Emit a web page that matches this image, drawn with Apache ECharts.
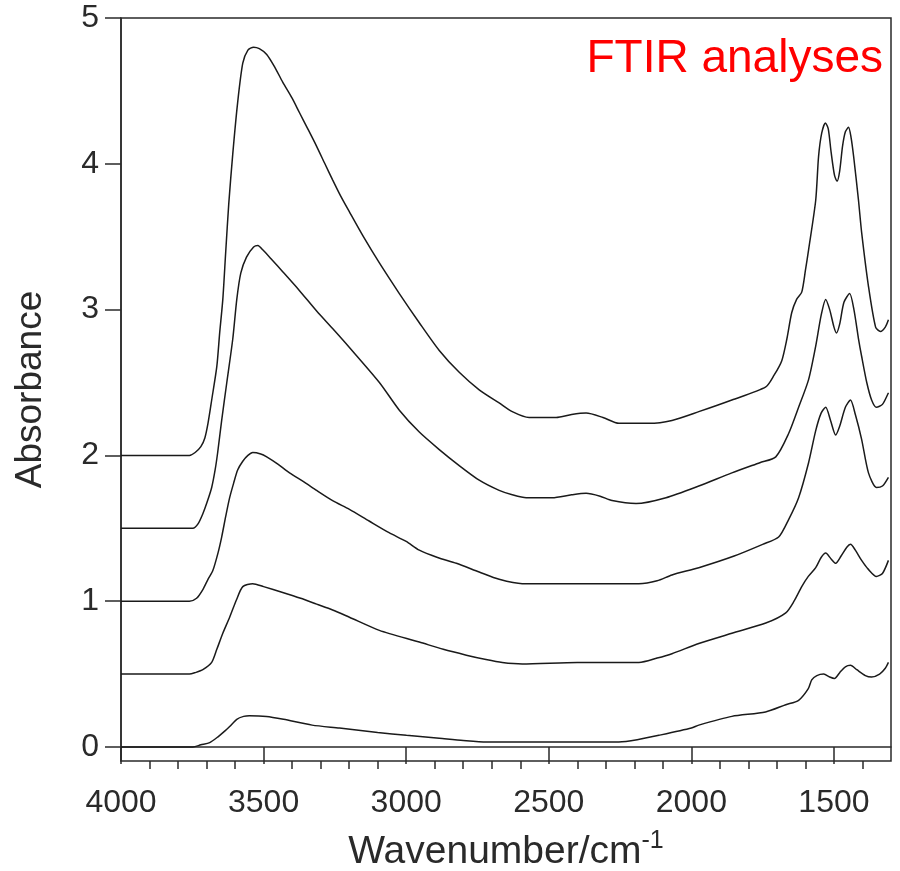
<!DOCTYPE html>
<html>
<head>
<meta charset="utf-8">
<script src="https://cdn.jsdelivr.net/npm/echarts@6/dist/echarts.min.js"></script>
<style>
html,body{margin:0;padding:0;background:#fff;}
#chart{width:900px;height:871px;}
</style>
</head>
<body>
<div id="chart"></div>
<script>
// Wavenumber (cm-1), absorbance pairs for each spectrum (offset baselines as in the figure)
const spectrumA = [[4000,2.00],[3800,2.00],[3760,2.00],[3740,2.02],[3720,2.06],[3706,2.12],[3695,2.22],[3682,2.38],[3664,2.61],[3654,2.84],[3643,3.07],[3633,3.39],[3622,3.73],[3608,4.07],[3591,4.42],[3573,4.69],[3555,4.78],[3535,4.80],[3515,4.79],[3489,4.75],[3460,4.66],[3433,4.56],[3400,4.45],[3374,4.35],[3345,4.24],[3314,4.12],[3285,4.00],[3258,3.89],[3230,3.78],[3199,3.67],[3150,3.50],[3094,3.32],[3024,3.11],[2954,2.91],[2884,2.72],[2814,2.57],[2744,2.45],[2674,2.36],[2628,2.30],[2569,2.26],[2474,2.26],[2420,2.28],[2369,2.29],[2310,2.26],[2254,2.22],[2149,2.22],[2068,2.24],[1974,2.30],[1858,2.38],[1739,2.47],[1710,2.55],[1683,2.65],[1665,2.80],[1648,2.98],[1631,3.07],[1613,3.12],[1600,3.27],[1589,3.41],[1564,3.75],[1554,4.05],[1543,4.21],[1530,4.28],[1520,4.24],[1510,4.08],[1498,3.92],[1489,3.88],[1480,3.95],[1470,4.12],[1460,4.22],[1449,4.25],[1440,4.18],[1431,4.05],[1414,3.75],[1403,3.53],[1379,3.16],[1354,2.88],[1337,2.85],[1320,2.88],[1309,2.93]];
const spectrumB = [[4000,1.50],[3800,1.50],[3748,1.50],[3730,1.53],[3713,1.60],[3698,1.68],[3682,1.78],[3670,1.90],[3661,2.02],[3647,2.24],[3629,2.50],[3608,2.80],[3594,3.07],[3580,3.25],[3560,3.36],[3535,3.43],[3520,3.44],[3503,3.41],[3470,3.34],[3433,3.26],[3374,3.13],[3314,2.99],[3258,2.87],[3199,2.74],[3094,2.50],[3024,2.31],[2954,2.16],[2884,2.04],[2814,1.93],[2744,1.83],[2674,1.76],[2628,1.73],[2579,1.71],[2488,1.71],[2420,1.73],[2369,1.74],[2320,1.72],[2278,1.69],[2194,1.67],[2089,1.71],[1974,1.79],[1858,1.88],[1760,1.95],[1704,1.99],[1659,2.15],[1624,2.33],[1589,2.52],[1564,2.75],[1545,2.96],[1529,3.07],[1515,3.00],[1500,2.88],[1491,2.84],[1480,2.90],[1465,3.05],[1445,3.11],[1430,3.00],[1414,2.80],[1403,2.68],[1385,2.50],[1368,2.38],[1351,2.33],[1330,2.35],[1309,2.43]];
const spectrumC = [[4000,1.00],[3800,1.00],[3760,1.00],[3735,1.02],[3713,1.08],[3695,1.15],[3678,1.21],[3660,1.33],[3647,1.44],[3633,1.58],[3619,1.71],[3605,1.81],[3591,1.90],[3573,1.96],[3555,2.00],[3538,2.02],[3510,2.01],[3489,1.99],[3450,1.94],[3409,1.88],[3360,1.82],[3314,1.76],[3258,1.69],[3199,1.63],[3130,1.55],[3060,1.47],[3000,1.41],[2954,1.35],[2890,1.30],[2824,1.26],[2744,1.20],[2674,1.15],[2593,1.12],[2400,1.12],[2184,1.12],[2120,1.14],[2068,1.18],[1974,1.23],[1850,1.31],[1750,1.39],[1694,1.44],[1659,1.56],[1624,1.71],[1589,1.95],[1564,2.17],[1545,2.29],[1529,2.33],[1512,2.24],[1494,2.14],[1480,2.20],[1460,2.33],[1442,2.38],[1425,2.28],[1403,2.11],[1379,1.88],[1351,1.78],[1330,1.79],[1309,1.85]];
const spectrumD = [[4000,0.50],[3800,0.50],[3760,0.50],[3740,0.51],[3713,0.53],[3682,0.58],[3664,0.67],[3643,0.78],[3619,0.89],[3595,1.01],[3573,1.10],[3538,1.12],[3500,1.10],[3433,1.06],[3370,1.02],[3314,0.98],[3258,0.94],[3199,0.89],[3094,0.80],[2954,0.72],[2870,0.67],[2789,0.63],[2720,0.60],[2663,0.58],[2593,0.57],[2400,0.58],[2184,0.58],[2120,0.61],[2068,0.64],[1974,0.71],[1858,0.78],[1739,0.85],[1669,0.92],[1640,1.00],[1613,1.10],[1590,1.17],[1564,1.23],[1545,1.30],[1529,1.33],[1510,1.29],[1494,1.26],[1475,1.31],[1455,1.37],[1442,1.39],[1425,1.35],[1403,1.28],[1380,1.22],[1351,1.17],[1330,1.19],[1309,1.28]];
const spectrumE = [[4000,0.00],[3800,0.00],[3748,0.00],[3720,0.015],[3689,0.03],[3660,0.07],[3630,0.12],[3619,0.14],[3594,0.19],[3570,0.21],[3550,0.215],[3490,0.21],[3430,0.19],[3330,0.15],[3234,0.13],[3100,0.10],[2999,0.08],[2884,0.06],[2800,0.045],[2719,0.035],[2500,0.035],[2254,0.035],[2190,0.05],[2114,0.08],[2000,0.13],[1974,0.15],[1858,0.21],[1740,0.24],[1669,0.29],[1624,0.32],[1590,0.40],[1578,0.46],[1560,0.49],[1536,0.50],[1515,0.48],[1498,0.47],[1480,0.51],[1460,0.55],[1442,0.56],[1420,0.53],[1390,0.49],[1368,0.48],[1340,0.50],[1320,0.54],[1309,0.58]];

const xMajorTicks = [4000,3500,3000,2500,2000,1500];
const xMinorTicks = [3900,3800,3700,3600,3400,3300,3200,3100,2900,2800,2700,2600,2400,2300,2200,2100,1900,1800,1700,1600,1400];
const yTicks = [0,1,2,3,4,5];

const FONT = '"Liberation Sans", Arial, sans-serif';
const AX = '#2a2a2a';
const TXT = '#2a2a2a';

const chart = echarts.init(document.getElementById('chart'), null, {renderer:'canvas'});
const mkSeries = (d) => ({
  type:'line', data:d, xAxisIndex:0, yAxisIndex:0, showSymbol:false, symbol:'none',
  smooth:0.25, lineStyle:{color:'#1a1a1a', width:1.5}, silent:true
});
chart.setOption({
  animation:false,
  backgroundColor:'#fff',
  grid:{left:121, right:9, top:18, bottom:110, outerBoundsMode:'none', containLabel:false,
        show:true, borderColor:AX, borderWidth:1.5, backgroundColor:'transparent'},
  graphic:[{
    type:'text', right:17, top:36,
    style:{text:'FTIR analyses', fill:'#ff0000', font:'46px ' + FONT}
  }],
  xAxis:[{
    type:'value', inverse:true, min:1300, max:4000,
    name:'{a|Wavenumber/cm}{b|-1}', nameLocation:'middle', nameGap:68,
    nameTextStyle:{rich:{
      a:{fontSize:39, fontFamily:FONT, color:TXT},
      b:{fontSize:25, fontFamily:FONT, color:TXT, padding:[0,0,22,0]}
    }},
    axisLine:{show:true, lineStyle:{color:AX, width:1.5}},
    axisTick:{show:true, inside:false, length:17, lineStyle:{color:AX, width:1.5}, customValues:xMajorTicks},
    axisLabel:{show:true, margin:26, fontSize:32, fontFamily:FONT, color:TXT, customValues:xMajorTicks,
               formatter:(v)=>String(v)},
    splitLine:{show:false}
  },{
    type:'value', inverse:true, min:1300, max:4000, position:'bottom',
    axisLine:{show:false},
    axisTick:{show:true, inside:false, length:8, lineStyle:{color:AX, width:1.5}, customValues:xMinorTicks},
    axisLabel:{show:false, customValues:xMinorTicks},
    splitLine:{show:false}
  }],
  yAxis:[{
    type:'value', min:-0.096, max:5,
    name:'Absorbance', nameLocation:'middle', nameGap:72, nameRotate:90,
    nameTextStyle:{fontSize:37, fontFamily:FONT, color:TXT},
    axisLine:{show:true, lineStyle:{color:AX, width:1.5}},
    axisTick:{show:true, inside:false, length:16, lineStyle:{color:AX, width:1.5}, customValues:yTicks},
    axisLabel:{show:true, margin:22, fontSize:32, fontFamily:FONT, color:TXT, customValues:yTicks,
               formatter:(v)=>String(v)},
    splitLine:{show:false}
  }],
  series:[mkSeries(spectrumA), mkSeries(spectrumB), mkSeries(spectrumC), mkSeries(spectrumD), mkSeries(spectrumE)]
});
</script>
</body>
</html>
